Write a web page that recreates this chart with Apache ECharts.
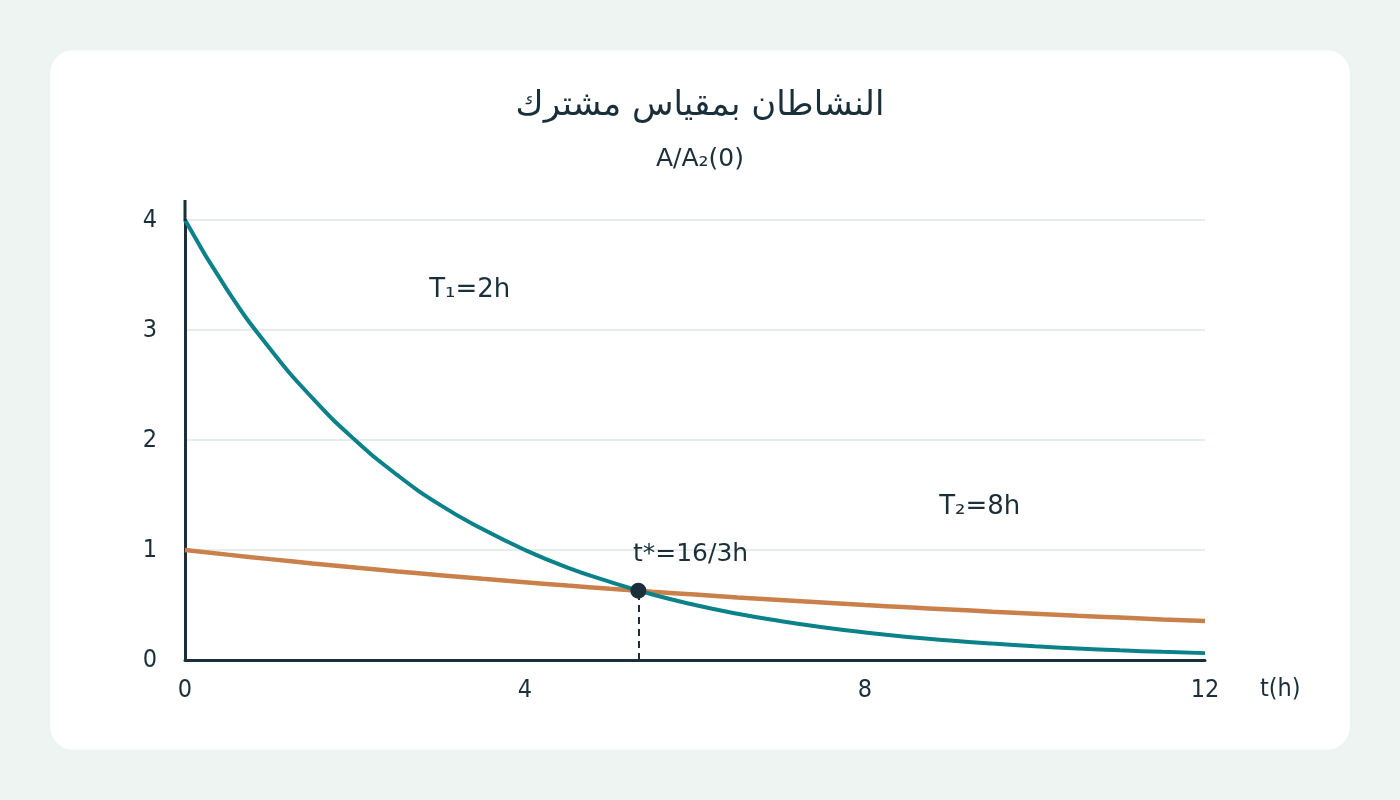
<!DOCTYPE html>
<html>
<head>
<meta charset="utf-8">
<script src="https://cdn.jsdelivr.net/npm/echarts@6/dist/echarts.min.js"></script>
<style>
html, body { margin: 0; padding: 0; background: #eef4f2; }
#main { width: 1400px; height: 800px; }
</style>
</head>
<body>
<div id="main"></div>
<script>
var chart = echarts.init(document.getElementById('main'));

// values (t in hours)
var times = [0, 0.5, 1, 1.5, 2, 2.5, 3, 3.5, 4, 4.5, 5, 5.5, 6, 6.5, 7, 7.5, 8, 8.5, 9, 9.5, 10, 10.5, 11, 11.5, 12];
var activity1 = [4, 3.36, 2.83, 2.38, 2, 1.68, 1.41, 1.19, 1, 0.84, 0.71, 0.595, 0.5, 0.42, 0.354, 0.297, 0.25, 0.21, 0.177, 0.149, 0.125, 0.105, 0.088, 0.074, 0.0625];
var activity2 = [1, 0.958, 0.917, 0.878, 0.841, 0.805, 0.771, 0.738, 0.707, 0.677, 0.648, 0.621, 0.595, 0.569, 0.545, 0.522, 0.5, 0.479, 0.459, 0.439, 0.42, 0.402, 0.386, 0.369, 0.354];
var crossing = [16 / 3, 0.63];
var annotations = [
	{ text: 'T₁=2h', at: [3.35, 3.36], size: 26, align: 'center' },
	{ text: 'T₂=8h', at: [9.35, 1.39], size: 26, align: 'center' },
	{ text: 't*=16/3h', at: [5.27, 0.96], size: 25, align: 'left' }
];

var ink = '#1b2f3b';
var font = 'DejaVu Sans';
var tickFont = 'DejaVu Sans Condensed';

function pairs(xs, ys) {
	return xs.map(function (x, i) { return [x, ys[i]]; });
}

var card = {
	type: 'rect',
	z: -10,
	shape: { x: 50, y: 50, width: 1300, height: 700, r: 24 },
	style: { fill: '#ffffff' }
};

var option = {
	backgroundColor: '#eef4f2',
	textStyle: { fontFamily: font, color: ink },
	title: {
		text: 'النشاطان بمقياس مشترك',
		subtext: 'A/A₂(0)',
		left: 'center',
		top: 84,
		itemGap: 24,
		textStyle: { fontFamily: font, fontSize: 34, fontWeight: 'normal', color: ink },
		subtextStyle: { fontFamily: font, fontSize: 25, color: ink }
	},
	graphic: [card],
	grid: { left: 185, right: 195, top: 220, bottom: 140 },
	xAxis: {
		type: 'value',
		min: 0,
		max: 12,
		interval: 4,
		name: 't(h)',
		nameLocation: 'end',
		nameGap: 55,
		nameTextStyle: { fontFamily: tickFont, fontSize: 25, color: ink, verticalAlign: 'top', padding: [17, 0, 0, 0] },
		axisLine: { lineStyle: { color: ink, width: 3 } },
		axisTick: { show: false },
		axisLabel: { fontFamily: tickFont, fontSize: 25, color: ink, margin: 18 },
		splitLine: { show: false }
	},
	yAxis: {
		type: 'value',
		min: 0,
		max: 4,
		interval: 1,
		axisLine: { show: true, lineStyle: { color: ink, width: 3 } },
		axisTick: { show: false },
		axisLabel: { fontFamily: tickFont, fontSize: 25, color: ink, margin: 28 },
		splitLine: { lineStyle: { color: '#dbe8e5', width: 1.5 } }
	},
	series: [{
		name: 'A1',
		type: 'line',
		smooth: true,
		showSymbol: false,
		data: pairs(times, activity1),
		lineStyle: { color: '#0b818a', width: 4 },
		z: 3
	}, {
		name: 'A2',
		type: 'line',
		smooth: true,
		showSymbol: false,
		data: pairs(times, activity2),
		lineStyle: { color: '#c9804a', width: 4.5 },
		z: 2
	}, {
		name: 'crossing',
		type: 'scatter',
		data: [crossing],
		symbolSize: 16,
		itemStyle: { color: ink, opacity: 1 },
		z: 5,
		markLine: {
			silent: true,
			symbol: 'none',
			label: { show: false },
			lineStyle: { color: ink, type: [7, 5], width: 2 },
			data: [[{ coord: [crossing[0], 0] }, { coord: crossing }]]
		}
	}, {
		name: 'labels',
		type: 'scatter',
		symbolSize: 0,
		itemStyle: { opacity: 1 },
		data: annotations.map(function (d) {
			return {
				value: d.at,
				name: d.text,
				label: { fontSize: d.size, align: d.align }
			};
		}),
		label: {
			show: true,
			position: 'inside',
			formatter: '{b}',
			color: ink,
			opacity: 1,
			fontFamily: font
		}
	}]
};

chart.setOption(option);

// y axis line runs a little above the top tick
var top4 = chart.convertToPixel({ gridIndex: 0 }, [0, 4]);
chart.setOption({
	graphic: [card, {
		type: 'line',
		z: 10,
		shape: { x1: top4[0], y1: top4[1] + 1, x2: top4[0], y2: top4[1] - 20 },
		style: { stroke: ink, lineWidth: 3 }
	}]
});
</script>
</body>
</html>
